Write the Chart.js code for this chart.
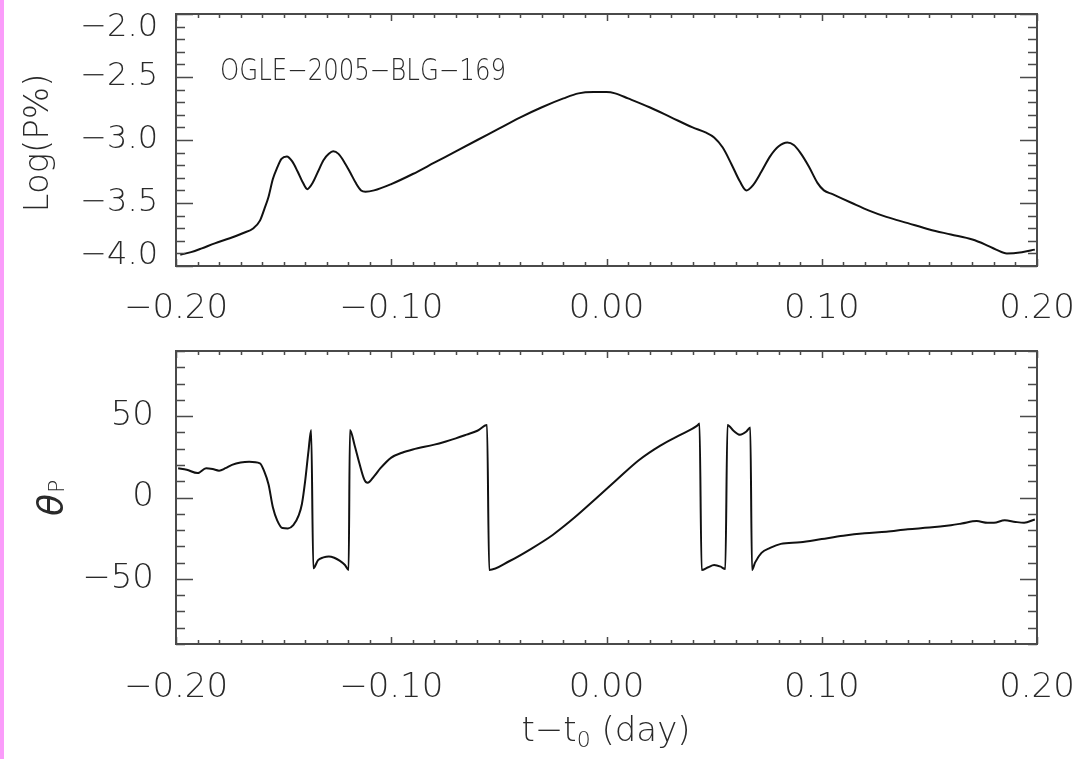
<!DOCTYPE html>
<html>
<head>
<meta charset="utf-8">
<script src="https://cdn.jsdelivr.net/npm/chart.js@4.4.1/dist/chart.umd.min.js"></script>
<style>
  html, body { margin: 0; padding: 0; background: #fff; overflow: hidden; }
  #page { position: relative; width: 1083px; height: 759px; overflow: hidden; }
  #strip { position: absolute; left: 0; top: 0; width: 4px; height: 759px; background: #fa9cfa; }
  canvas { position: absolute; left: 0; }
  #top-chart { top: -40px; }
  #bottom-chart { top: 320px; }
</style>
</head>
<body>
<div id="page">
  <canvas id="top-chart" width="1120" height="390"></canvas>
  <canvas id="bottom-chart" width="1120" height="439"></canvas>
  <div id="strip"></div>
</div>
<script>
// top panel: log polarisation vs time
const tTop = [
  -0.198, -0.193, -0.188, -0.182, -0.175, -0.169, -0.164, -0.161, -0.159, -0.157,
  -0.155, -0.153, -0.151, -0.1485, -0.146, -0.1435, -0.141, -0.139, -0.1365, -0.134,
  -0.1315, -0.129, -0.127, -0.1245, -0.122, -0.119, -0.1165, -0.114, -0.112, -0.108,
  -0.100, -0.090, -0.080, -0.070, -0.060, -0.050, -0.040, -0.030, -0.020, -0.013,
  -0.006, 0.000, 0.004, 0.010, 0.020, 0.030, 0.040, 0.046, 0.050, 0.054,
  0.058, 0.062, 0.065, 0.068, 0.072, 0.076, 0.080, 0.084, 0.087, 0.090,
  0.094, 0.098, 0.101, 0.105, 0.114, 0.122, 0.130, 0.140, 0.150, 0.160,
  0.170, 0.176, 0.181, 0.186, 0.193, 0.199
];
const logP = [
  -3.91, -3.89, -3.86, -3.82, -3.78, -3.74, -3.70, -3.64, -3.55, -3.45,
  -3.31, -3.22, -3.15, -3.13, -3.17, -3.25, -3.34, -3.39, -3.34, -3.25,
  -3.16, -3.11, -3.09, -3.11, -3.17, -3.26, -3.34, -3.40, -3.41, -3.40,
  -3.35, -3.27, -3.18, -3.09, -3.00, -2.91, -2.82, -2.74, -2.67, -2.63,
  -2.62, -2.62, -2.63, -2.67, -2.74, -2.82, -2.90, -2.94, -2.98, -3.06,
  -3.19, -3.33, -3.40, -3.36, -3.25, -3.13, -3.05, -3.02, -3.04, -3.10,
  -3.21, -3.34, -3.40, -3.43, -3.50, -3.56, -3.61, -3.66, -3.71, -3.75,
  -3.79, -3.83, -3.87, -3.90, -3.89, -3.87
];

// bottom panel: polarisation angle vs time
const tBot = [
  -0.199, -0.195, -0.190, -0.186, -0.183, -0.180, -0.177, -0.174, -0.170, -0.166,
  -0.161, -0.159, -0.157, -0.155, -0.153, -0.1505, -0.148, -0.1455, -0.143, -0.1415,
  -0.140, -0.1385, -0.1372, -0.1362, -0.134, -0.1315, -0.129, -0.1265, -0.124, -0.1215,
  -0.1198, -0.1192, -0.117, -0.115, -0.1125, -0.111, -0.108, -0.105, -0.100, -0.095,
  -0.090, -0.080, -0.075, -0.070, -0.065, -0.060, -0.0555, -0.0545, -0.045, -0.035,
  -0.025, -0.015, -0.005, 0.005, 0.015, 0.025, 0.035, 0.042, 0.0432, 0.0442,
  0.047, 0.050, 0.053, 0.0552, 0.0562, 0.059, 0.062, 0.065, 0.0668, 0.0676,
  0.069, 0.072, 0.076, 0.081, 0.090, 0.100, 0.110, 0.120, 0.130, 0.140,
  0.150, 0.160, 0.165, 0.172, 0.177, 0.180, 0.185, 0.190, 0.194, 0.199
];
const theta = [
  18, 17, 15, 18, 17.5, 16.5, 18, 20, 21.5, 22,
  21, 16, 8, -6, -14, -18.8, -19, -17, -11, -4,
  10, 28, 41.5, -43.5, -38.5, -36.8, -36.2, -37, -38.8, -41.5,
  -44.5, 41.5, 32, 22, 11, 9, 13, 18, 24.5, 27.5,
  29.5, 32.5, 34.3, 36.3, 38.6, 41, 44.5, -44.5, -39, -31.5,
  -23, -12.5, -0.8, 11.2, 22.9, 31.9, 39, 44, 45.5, -44.5,
  -43, -41.5, -42.5, -44, 44.5, 41, 38.5, 40.5, 43, -44.5,
  -40, -34, -31, -28.5, -27.5, -25.5, -23.5, -22, -21, -19.5,
  -18.5, -17, -16, -14.5, -15.5, -15.5, -14, -15, -15.5, -13.5
];

const FAMILY = '"DejaVu Sans", "Liberation Sans", sans-serif';
const TEXT = '#2a2a2a';
const AXIS = '#4a4a4a';

function isMult(v, step) {
  const q = v / step;
  return Math.abs(q - Math.round(q)) < 1e-6;
}

function same(a, b) {
  return Math.abs(a - b) < 1e-6;
}

function fmt(v, digits) {
  const s = Math.abs(v) < 1e-9 ? (0).toFixed(digits) : v.toFixed(digits);
  return s.replace('-', '\u2212');
}

function toPoints(xs, ys) {
  return xs.map((x, i) => ({ x: x, y: ys[i] }));
}

// inward ticks on all four sides plus the box
const frameTicks = {
  id: 'frameTicks',
  afterDraw(chart, args, opts) {
    const { ctx, chartArea: a } = chart;
    const x = chart.scales.x;
    const y = chart.scales.y;
    ctx.save();
    ctx.strokeStyle = AXIS;
    ctx.lineWidth = 1.5;
    ctx.beginPath();
    x.ticks.forEach((t) => {
      const px = Math.round(x.getPixelForValue(t.value)) + 0.5;
      const len = isMult(t.value, opts.xMajor) ? 7 : 4;
      ctx.moveTo(px, a.bottom);
      ctx.lineTo(px, a.bottom - len);
      ctx.moveTo(px, a.top);
      ctx.lineTo(px, a.top + len);
    });
    y.ticks.forEach((t) => {
      const py = Math.round(y.getPixelForValue(t.value)) + 0.5;
      const len = isMult(t.value, opts.yMajor) ? 17 : 9;
      ctx.moveTo(a.left, py);
      ctx.lineTo(a.left + len, py);
      ctx.moveTo(a.right, py);
      ctx.lineTo(a.right - len, py);
    });
    ctx.stroke();
    ctx.lineWidth = 2;
    ctx.strokeRect(a.left, a.top, a.right - a.left, a.bottom - a.top);
    ctx.restore();
  }
};

// axis titles and the event label (need subscripts)
const labels = {
  id: 'labels',
  afterDraw(chart, args, opts) {
    const ctx = chart.ctx;
    ctx.save();
    ctx.fillStyle = TEXT;
    ctx.textBaseline = 'alphabetic';
    if (opts.panel === 'top') {
      // canvas starts 40px above the page
      ctx.font = '200 30px ' + FAMILY;
      ctx.textAlign = 'left';
      ctx.fillText('OGLE\u22122005\u2212BLG\u2212169', 220, 120, 286);

      ctx.translate(48, 183);
      ctx.rotate(-Math.PI / 2);
      ctx.font = '200 34px ' + FAMILY;
      ctx.textAlign = 'center';
      ctx.fillText('Log(P%)', 0, 0);
    } else {
      // theta_P, rotated
      ctx.save();
      ctx.translate(63, 196);
      ctx.rotate(-Math.PI / 2);
      ctx.textAlign = 'left';
      ctx.font = 'italic 400 36px ' + FAMILY;
      ctx.fillText('\u03b8', 0, 0);
      const w = ctx.measureText('\u03b8').width;
      ctx.font = '200 22px ' + FAMILY;
      ctx.fillText('P', w + 1, 1);
      ctx.restore();

      // t - t0 (day)
      const big = '200 34px ' + FAMILY;
      const small = '200 22px ' + FAMILY;
      ctx.textAlign = 'left';
      ctx.font = big;
      const w1 = ctx.measureText('t\u2212t').width;
      const w3 = ctx.measureText(' (day)').width;
      ctx.font = small;
      const w2 = ctx.measureText('0').width;
      const x0 = 606 - (w1 + w2 + w3) / 2;
      const base = 421;
      ctx.font = big;
      ctx.fillText('t\u2212t', x0, base);
      ctx.font = small;
      ctx.fillText('0', x0 + w1, base + 6);
      ctx.font = big;
      ctx.fillText(' (day)', x0 + w1 + w2, base);
    }
    ctx.restore();
  }
};

function makeChart(canvasId, xs, ys, cfg) {
  return new Chart(document.getElementById(canvasId), {
    type: 'line',
    data: {
      datasets: [{
        data: toPoints(xs, ys),
        borderColor: '#111',
        borderWidth: 2,
        pointRadius: 0,
        cubicInterpolationMode: 'monotone',
        fill: false,
      }],
    },
    options: {
      responsive: false,
      animation: false,
      devicePixelRatio: 1,
      // canvas is 1120 wide, so right edge of plot sits at 1037
      layout: { padding: { left: 0, right: 83, top: cfg.padTop, bottom: 0 } },
      plugins: {
        legend: { display: false },
        tooltip: { enabled: false },
        frameTicks: { xMajor: 0.1, yMajor: cfg.yMajor },
        labels: { panel: cfg.panel },
      },
      scales: {
        x: {
          type: 'linear',
          min: -0.2,
          max: 0.2,
          grid: { display: false },
          border: { display: false },
          ticks: {
            stepSize: 0.01,
            autoSkip: false,
            maxRotation: 0,
            padding: cfg.xPad,
            color: TEXT,
            font: { family: FAMILY, size: 34, weight: 200, lineHeight: 1 },
            callback: (v) => (isMult(v, 0.1) ? fmt(v, 2) : ''),
          },
          afterFit: (s) => { s.height = cfg.xHeight; },
        },
        y: {
          min: cfg.yMin,
          max: cfg.yMax,
          grid: { display: false },
          border: { display: false },
          ticks: {
            stepSize: cfg.yStep,
            autoSkip: false,
            padding: cfg.yPad,
            color: TEXT,
            // edge labels sit a little inside the box, as in the original
            font: (c) => {
              let lh = 1;
              if (cfg.nudge && c.tick) {
                if (same(c.tick.value, cfg.yMax)) lh = '28px';
                if (same(c.tick.value, cfg.yMin)) lh = '20px';
              }
              return { family: FAMILY, size: cfg.yFont, weight: 200, lineHeight: lh };
            },
            callback: (v) => {
              if (!isMult(v, cfg.yMajor)) return '';
              const s = fmt(v, cfg.yDigits);
              if (cfg.nudge && same(v, cfg.yMax)) return ['', s];
              if (cfg.nudge && same(v, cfg.yMin)) return [s, ''];
              return s;
            },
          },
          afterFit: (s) => { s.width = 176; },
        },
      },
    },
    plugins: [frameTicks, labels],
  });
}

makeChart('top-chart', tTop, logP, {
  panel: 'top', padTop: 54, xHeight: 84, xPad: 18, nudge: true,
  yMin: -4.0, yMax: -2.0, yStep: 0.1, yMajor: 0.5, yDigits: 1, yFont: 32, yPad: 10,
});

makeChart('bottom-chart', tBot, theta, {
  panel: 'bottom', padTop: 30, xHeight: 115, xPad: 19, nudge: false,
  yMin: -90, yMax: 90, yStep: 10, yMajor: 50, yDigits: 0, yFont: 34, yPad: 14,
});
</script>
</body>
</html>
